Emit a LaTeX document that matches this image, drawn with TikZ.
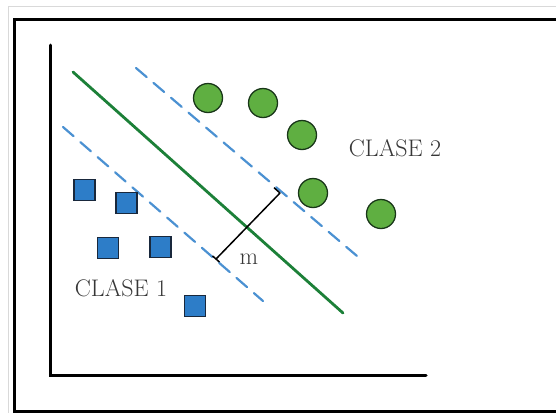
\documentclass[tikz,border=0pt]{standalone}
\usepackage{fontspec}
\setmainfont{Latin Modern Roman}
\begin{document}
\begin{tikzpicture}[x=1pt,y=-1pt,
  frameline/.style={black, line width=3pt},
  outerline/.style={black!15, line width=1pt},
  axisline/.style={black, line width=3pt, line cap=round},
  hyperplane/.style={draw={rgb,255:red,28;green,128;blue,56}, line width=2.8pt, line cap=round},
  marginline/.style={draw={rgb,255:red,75;green,145;blue,210}, line width=2.2pt, dash pattern=on 14pt off 9pt, line cap=round},
  classA/.style={draw={rgb,255:red,25;green,40;blue,60}, fill={rgb,255:red,45;green,125;blue,200}, line width=1.3pt, minimum size=21pt, inner sep=0pt, rectangle},
  classB/.style={draw={rgb,255:red,25;green,55;blue,25}, fill={rgb,255:red,95;green,175;blue,65}, line width=1.3pt, minimum size=29pt, inner sep=0pt, circle},
  lbl/.style={text={rgb,255:red,55;green,55;blue,55}, font=\fontsize{24}{28}\selectfont, inner sep=0pt},
  marginmark/.style={black, line width=1.5pt}
]
\useasboundingbox (0,0) rectangle (556,413);
\fill[white] (0,0) rectangle (556,413);

% outer light frame and black frame
\draw[outerline] (556,6) -- (8,6) -- (8,413);
\draw[frameline] (557,19.5) -- (14.5,19.5) -- (14.5,411.5) -- (557,411.5);

% axes
\coordinate (ytop) at (50,45);
\coordinate (origin) at (50,375);
\coordinate (xend) at (426,375);
\draw[axisline] (ytop) -- (origin) -- (xend);

% separating line and margins
\coordinate (h1) at (73,72);
\coordinate (h2) at (343,313);
\coordinate (u1) at (136,68);
\coordinate (u2) at (357,256);
\coordinate (l1) at (63,127);
\coordinate (l2) at (263,301);
\draw[marginline] (u1) -- (u2);
\draw[marginline] (l1) -- (l2);
\draw[hyperplane] (h1) -- (h2);

% margin width
\coordinate (mA) at (216,259);
\coordinate (mB) at (280,193);
\draw[marginmark] (mA) -- (mB);
\draw[marginmark] (mA) ++(-3.5,-3.1) -- ++(7,6.2);
\draw[marginmark] (mB) -- ++(-6,-5.3);
\node[lbl] (mlabel) at (249,259) {m};

% class 1 samples
\node[classA] (s1) at (84.5,190) {};
\node[classA] (s2) at (126.5,203) {};
\node[classA] (s3) at (108,248) {};
\node[classA] (s4) at (160.5,247) {};
\node[classA] (s5) at (195,306) {};
\node[lbl] (c1) at (121,288) {CLASE 1};

% class 2 samples
\node[classB] (g1) at (208,98) {};
\node[classB] (g2) at (263,103) {};
\node[classB] (g3) at (302,135) {};
\node[classB] (g4) at (313,193) {};
\node[classB] (g5) at (381,214) {};
\node[lbl] (c2) at (395,148) {CLASE 2};
\end{tikzpicture}
\end{document}
